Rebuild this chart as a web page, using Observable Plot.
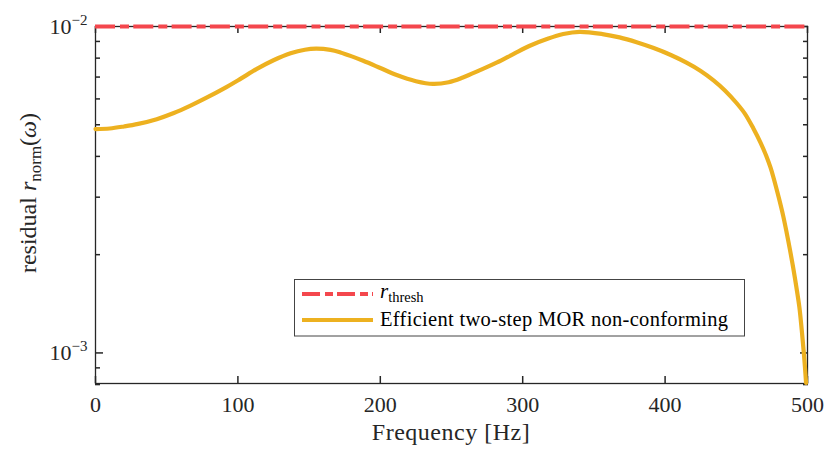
<!DOCTYPE html>
<html><head><meta charset="utf-8">
<script src="https://cdn.jsdelivr.net/npm/d3@7"></script>
<script src="https://cdn.jsdelivr.net/npm/@observablehq/plot@0.6"></script>
<style>body{margin:0;background:#fff} svg{display:block}</style>
</head><body><div id="chart"></div>
<script>
// ---- data ----
const freq = [0, 10, 20, 30, 43, 55, 66, 78, 90, 101.5, 113, 125, 137, 147, 155, 165, 172, 180, 188, 200, 211.5, 225, 237, 248, 258, 270, 282, 294, 305, 317, 328.5, 340, 356, 368, 380, 392, 404, 415, 425, 434, 442, 450, 456, 462, 467, 471, 474, 476, 480, 483, 485.5, 487.6, 490, 492.3, 494.3, 496, 497.6, 499];
const residual = [4.85e-3, 4.87e-3, 4.94e-3, 5.03e-3, 5.20e-3, 5.43e-3, 5.70e-3, 6.05e-3, 6.45e-3, 6.90e-3, 7.40e-3, 7.88e-3, 8.28e-3, 8.49e-3, 8.55e-3, 8.48e-3, 8.33e-3, 8.10e-3, 7.85e-3, 7.46e-3, 7.10e-3, 6.80e-3, 6.67e-3, 6.75e-3, 6.98e-3, 7.35e-3, 7.76e-3, 8.26e-3, 8.73e-3, 9.15e-3, 9.48e-3, 9.63e-3, 9.48e-3, 9.26e-3, 8.95e-3, 8.59e-3, 8.18e-3, 7.75e-3, 7.31e-3, 6.84e-3, 6.37e-3, 5.84e-3, 5.41e-3, 4.87e-3, 4.41e-3, 4.02e-3, 3.70e-3, 3.46e-3, 2.97e-3, 2.62e-3, 2.32e-3, 2.08e-3, 1.82e-3, 1.58e-3, 1.38e-3, 1.17e-3, 0.98e-3, 0.81e-3];
const threshold = [1e-2];
const xTicks = [0, 100, 200, 300, 400, 500];
const yMajor = [1e-3, 1e-2];
const yMajorLabels = ["10^\u22123", "10^\u22122"];
const yMinor = [8e-4, 9e-4, 2e-3, 3e-3, 4e-3, 5e-3, 6e-3, 7e-3, 8e-3, 9e-3];
const seriesNames = ["thresh", "Efficient two-step MOR non-conforming"];
const seriesColors = ["#f4474d", "#edb120"];
const xLabel = "Frequency [Hz]";

// ---- chart ----
const W = 827, H = 453, mT = 26, mR = 20, mB = 70, mL = 95;
const innerH = H - mT - mB;
const axisColor = "#262626";
const dash = "20,5,9,4.3";
const data = freq.map((f, i) => ({f, r: residual[i]}));
const plot = Plot.plot({
  width: W, height: H,
  marginTop: mT, marginRight: mR, marginBottom: mB, marginLeft: mL,
  style: {fontFamily: "'Liberation Serif', serif", background: "#fff", color: axisColor, overflow: "visible"},
  x: {domain: [0, 500], label: null},
  y: {type: "log", domain: [8.06e-4, 1e-2], label: null},
  marks: [
    Plot.frame({stroke: axisColor, strokeWidth: 1.3}),
    // inward ticks on bottom and top
    Plot.tickX(xTicks, {x: d => d, stroke: axisColor, strokeWidth: 1.5, insetTop: innerH - 7}),
    Plot.tickX(xTicks, {x: d => d, stroke: axisColor, strokeWidth: 1.5, insetBottom: innerH - 7}),
    Plot.axisX(xTicks, {anchor: "bottom", tickSize: 0, tickPadding: 13, fontSize: 22, tickFormat: d => String(d), label: null}),
    Plot.axisY(yMajor, {anchor: "left", tickSize: -8, strokeWidth: 1.5, tickFormat: () => "", label: null}),
    Plot.axisY(yMinor, {anchor: "left", tickSize: -5, strokeWidth: 1.5, tickFormat: () => "", label: null}),
    Plot.axisY(yMajor, {anchor: "right", tickSize: -8, strokeWidth: 1.5, tickFormat: () => "", label: null}),
    Plot.axisY(yMinor, {anchor: "right", tickSize: -5, strokeWidth: 1.5, tickFormat: () => "", label: null}),
    Plot.axisY(yMajor, {anchor: "left", tickSize: 0, tickPadding: 8, fontSize: 22, tickFormat: d => yMajorLabels[yMajor.indexOf(d)], label: null}),
    Plot.line(data, {x: "f", y: "r", stroke: seriesColors[1], strokeWidth: 4.2, curve: "catmull-rom", strokeLinecap: "round", strokeLinejoin: "round"}),
    Plot.ruleY(threshold, {stroke: seriesColors[0], strokeWidth: 4, strokeDasharray: dash})
  ]
});
document.getElementById("chart").appendChild(plot);

const svg = d3.select(plot);
// superscripts on y tick labels
svg.selectAll("text").each(function () {
  const t = this.textContent;
  if (t && t.includes("^")) {
    const [b, e] = t.split("^");
    const s = d3.select(this);
    s.text(b);
    s.append("tspan").attr("dy", -9).attr("font-size", 15).text(e);
  }
});

// x label
svg.append("text").attr("x", 451).attr("y", 439.5).attr("text-anchor", "middle")
  .attr("font-size", 24).attr("letter-spacing", 0.5).attr("fill", axisColor).text(xLabel);

// y label
const yl = svg.append("text").attr("transform", "translate(36,193) rotate(-90)")
  .attr("text-anchor", "middle").attr("font-size", 24).attr("fill", axisColor);
yl.append("tspan").text("residual ");
yl.append("tspan").attr("font-style", "italic").text("r");
yl.append("tspan").attr("font-size", 17).attr("dy", 5).text("norm");
yl.append("tspan").attr("dy", -5).text("(");
yl.append("tspan").attr("font-style", "italic").text("\u03c9");
yl.append("tspan").text(")");

// legend
const lg = svg.append("g").attr("text-anchor", "start");
lg.append("rect").attr("x", 294.5).attr("y", 279.5).attr("width", 450).attr("height", 56.5)
  .attr("fill", "#fff").attr("stroke", "#444").attr("stroke-width", 1);
lg.append("line").attr("x1", 302).attr("x2", 373).attr("y1", 294).attr("y2", 294)
  .attr("stroke", seriesColors[0]).attr("stroke-width", 4).attr("stroke-dasharray", "18,5,8,4");
lg.append("line").attr("x1", 302).attr("x2", 373).attr("y1", 320).attr("y2", 320)
  .attr("stroke", seriesColors[1]).attr("stroke-width", 4.2);
const t1 = lg.append("text").attr("x", 380).attr("y", 297.5).attr("font-size", 21).attr("fill", "#000").attr("text-anchor", "start");
t1.append("tspan").attr("font-style", "italic").text("r");
t1.append("tspan").attr("font-size", 14.5).attr("dy", 4.5).text(seriesNames[0]);
lg.append("text").attr("x", 380).attr("y", 326).attr("font-size", 20.5).attr("letter-spacing", 0.3)
  .attr("text-anchor", "start").attr("fill", "#000").text(seriesNames[1]);
</script>
</body></html>
